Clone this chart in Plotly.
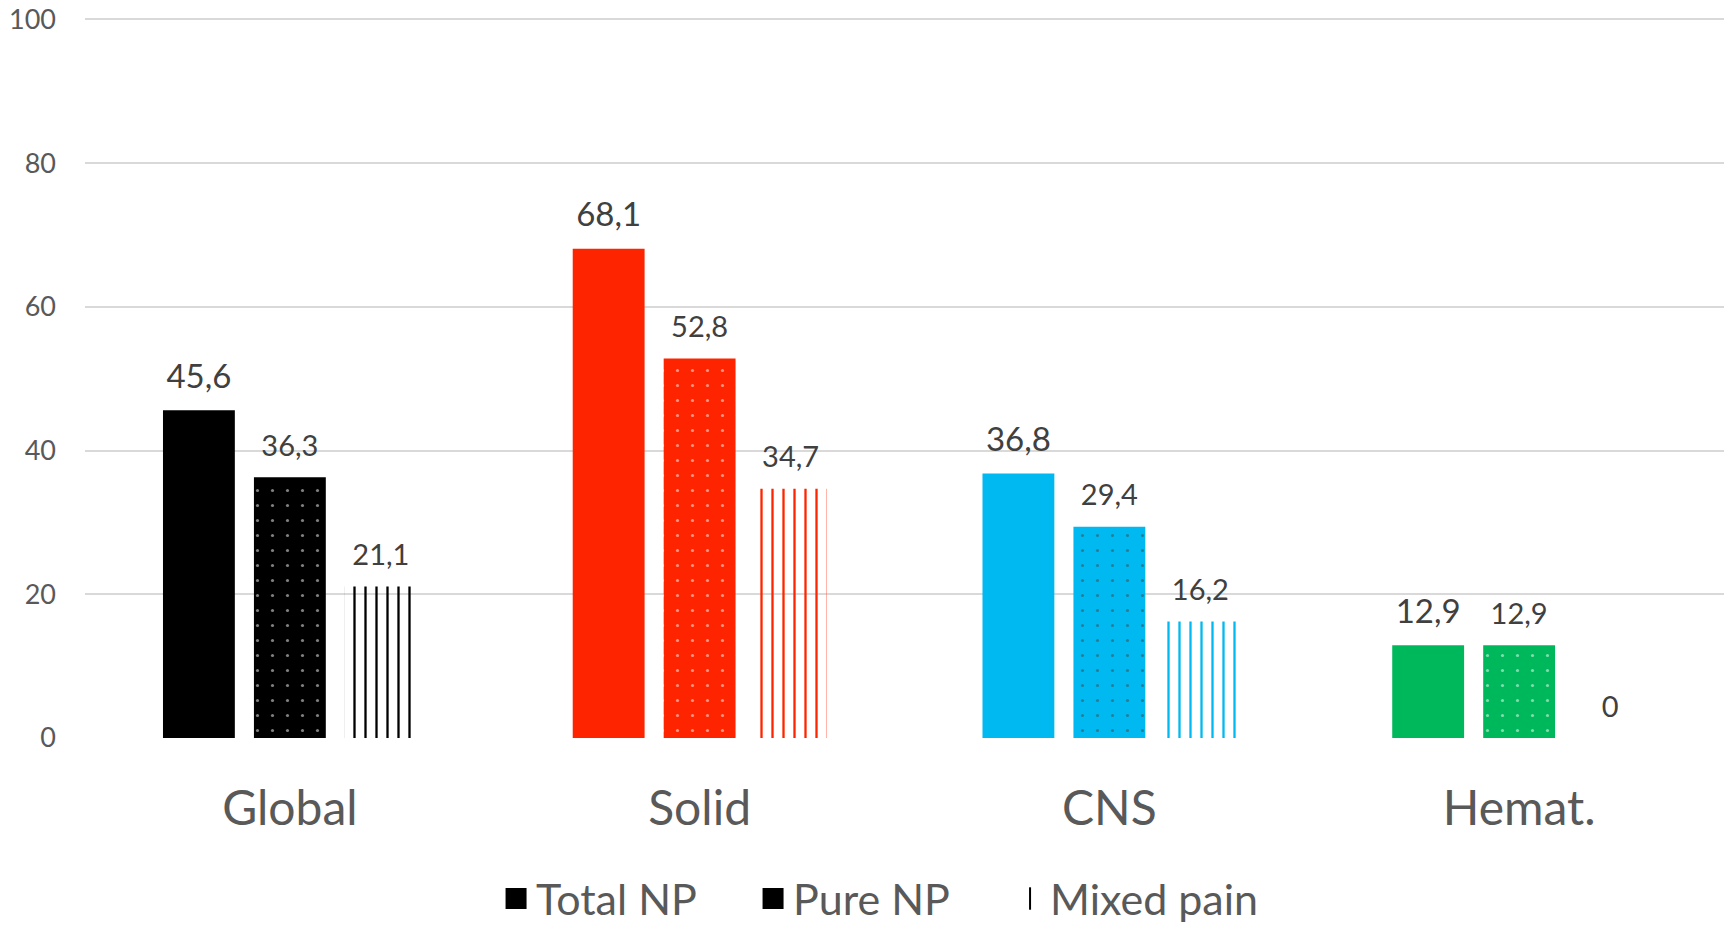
import plotly.graph_objects as go

# Share of patients with neuropathic pain, by tumour group (%)
categories = ["Global", "Solid", "CNS", "Hemat."]
total_np = [45.6, 68.1, 36.8, 12.9]
pure_np = [36.3, 52.8, 29.4, 12.9]
mixed_pain = [21.1, 34.7, 16.2, 0]

group_colors = ["#000000", "#FF2400", "#00B9F0", "#00B85C"]

FONT = "Lato"
LABEL_COLOR = "#404040"
AXIS_COLOR = "#595959"
GAP = 0.334


def fmt(v):
    # decimal comma, integers without decimals
    return str(int(v)) if float(v).is_integer() else f"{v:.1f}".replace(".", ",")


fig = go.Figure()

series = [
    ("Total NP", "t", total_np, dict(color=group_colors), 33),
    ("Pure NP", "p", pure_np,
     dict(color=group_colors,
          pattern=dict(shape=".", fgcolor="white", size=15, solidity=0.035,
                       fillmode="overlay")), 29),
    ("Mixed pain", "m", mixed_pain,
     dict(color=group_colors,
          pattern=dict(shape="|", fgcolor=group_colors, bgcolor="white",
                       size=11, solidity=0.21, fillmode="replace")), 29),
]

for name, grp, vals, marker, fsize in series:
    fig.add_trace(go.Bar(
        x=categories, y=vals, name=name, offsetgroup=grp,
        marker=dict(line=dict(width=0), **marker),
        showlegend=False, hoverinfo="skip",
    ))
    # value labels placed above each bar
    fig.add_trace(go.Scatter(
        x=categories, y=vals, offsetgroup=grp, mode="markers+text",
        text=[fmt(v) for v in vals], textposition="top center",
        textfont=dict(family=FONT, size=fsize, color=LABEL_COLOR),
        marker=dict(size=21, color="rgba(0,0,0,0)"),
        showlegend=False, hoverinfo="skip", cliponaxis=False,
    ))

# legend entries
legend_markers = [
    ("Total NP", "t", dict(symbol="square", size=16, color="black",
                           line=dict(color="black", width=5))),
    ("Pure NP", "p", dict(symbol="square", size=16, color="black",
                          line=dict(color="black", width=5))),
    ("Mixed pain", "m", dict(symbol="line-ns", size=16, color="black",
                             line=dict(color="black", width=2))),
]
for name, grp, mk in legend_markers:
    fig.add_trace(go.Scatter(
        x=[None], y=[None], name=name, offsetgroup=grp, mode="markers",
        marker=mk, showlegend=True,
    ))

fig.update_layout(
    width=1724, height=925,
    margin=dict(l=85, r=0, t=18, b=187, autoexpand=False),
    paper_bgcolor="white", plot_bgcolor="white",
    barmode="group", bargap=GAP, bargroupgap=0.21,
    scattermode="group", scattergap=GAP,
    font=dict(family=FONT, color=AXIS_COLOR),
    legend=dict(
        orientation="h", x=0.486, xanchor="center", y=-0.223, yanchor="middle",
        font=dict(family=FONT, size=43, color=AXIS_COLOR),
        bgcolor="rgba(0,0,0,0)", entrywidth=212,
    ),
    xaxis=dict(
        type="category", showgrid=False, zeroline=False, showline=False,
        ticks="", tickfont=dict(family=FONT, size=48, color=AXIS_COLOR),
        ticklabelstandoff=38, automargin=False,
    ),
    yaxis=dict(
        range=[0, 100.2], tickvals=[0, 20, 40, 60, 80, 100],
        showgrid=True, gridcolor="#D9D9D9", gridwidth=2,
        zeroline=False, showline=False, ticks="",
        tickfont=dict(family=FONT, size=27, color=AXIS_COLOR),
        ticklabelstandoff=28, automargin=False, ticklabeloverflow="allow",
    ),
)

fig.write_html("out.html")
